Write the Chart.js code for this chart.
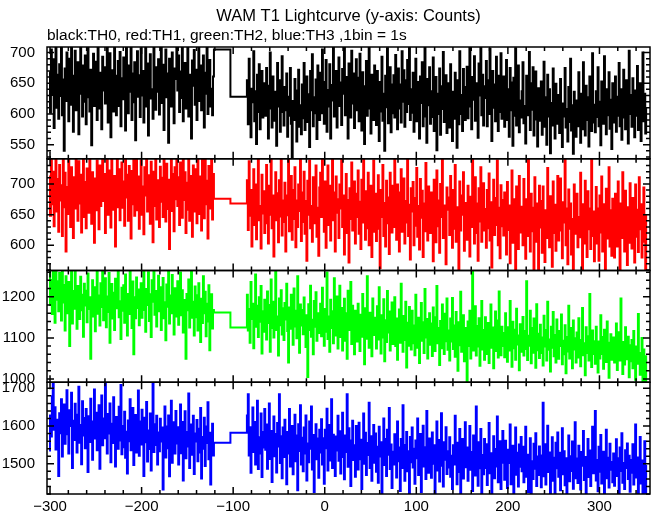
<!DOCTYPE html>
<html lang="en">
<head>
<meta charset="UTF-8" />
<title>WAM T1 Lightcurve</title>
<script src="https://cdn.jsdelivr.net/npm/chart.js@4"></script>
<style>
  body { margin: 0; background: #fff; }
  #wrap { width: 652px; height: 515px; }
</style>
</head>
<body>
<div id="wrap"><canvas id="lc" width="652" height="515"></canvas></div>
<script>
// 1 s bins. Data gap between -121 and -85 s is filled by two long bins.
const preStart = -301;
const postStart = -85;
const gapTimes = [-121, -103];

const th0Pre = [
  668,602,705,631,689,577,650,718,610,664,592,681,629,713,598,656,540,674,621,700,
  645,588,690,615,726,637,571,662,703,606,648,684,567,633,710,652,596,679,620,695,
  583,660,716,627,604,672,549,641,698,613,685,633,590,722,655,609,667,575,693,638,
  676,617,652,708,586,644,699,562,630,671,604,719,647,598,662,686,613,701,580,658,
  624,692,641,573,711,655,601,679,636,724,590,666,619,684,557,647,702,628,663,595,
  707,630,670,586,649,715,612,682,565,653,697,625,640,592,728,661,607,676,636,689,
  599,662,721,618,680,574,644,705,627,666,553,690,634,612,700,648,585,674,657,716,
  638,695,603,669,626,712,588,651,683,609,642,720,596,664,631,560,687,646,704,615,
  672,590,658,710,621,679,606,645,695,578,667,633,713,600,654,688,612,641,598,661
];
const th0Gap = [705, 628];
const th0Post = [
  655,583,690,608,562,641,619,702,588,637,551,664,603,681,575,627,670,594,616,650,
  597,675,624,560,646,700,609,578,661,620,589,636,548,683,612,655,571,640,694,603,
  581,644,606,666,563,628,597,675,584,528,621,590,657,603,555,638,672,579,614,567,
  648,593,683,574,619,661,587,632,546,670,606,697,580,627,601,656,559,679,615,590,
  667,601,705,628,584,652,688,571,639,612,681,560,647,622,715,596,643,670,578,631,
  692,613,651,582,673,633,709,598,660,621,560,682,641,594,703,617,666,577,635,689,
  606,659,588,698,627,573,668,614,551,645,686,597,630,712,609,568,664,624,590,679,
  641,582,670,615,556,652,604,693,589,633,540,662,611,707,585,625,676,570,648,601,
  663,594,696,626,575,674,609,648,586,702,620,671,579,655,603,688,616,710,590,640,
  602,667,571,631,690,588,652,609,560,661,618,684,580,642,712,596,553,657,614,676,
  584,637,595,692,572,615,660,541,633,600,674,566,645,608,701,587,625,663,569,610,
  650,578,681,606,556,636,592,667,615,545,655,583,702,600,631,572,673,609,590,644,
  677,593,639,710,612,575,660,623,694,589,650,607,561,682,630,716,598,664,581,645,
  626,686,580,655,600,706,633,556,670,610,648,588,693,619,572,662,603,699,592,638,
  661,579,620,688,590,640,563,675,606,651,548,659,597,707,581,628,679,570,622,594,
  637,684,585,613,552,662,598,630,701,574,650,607,676,565,624,669,591,547,642,611,
  589,653,566,610,685,579,627,550,664,596,640,536,618,581,674,603,560,649,608,584,
  631,569,657,590,546,617,596,675,578,608,555,644,587,690,573,614,535,636,600,563,
  622,580,668,597,553,633,575,684,604,565,646,590,627,547,661,601,572,699,586,615,
  570,637,595,676,580,620,549,653,605,584,694,612,567,640,598,668,576,623,543,650,
  614,586,661,571,628,597,683,580,640,558,618,672,594,575,655,609,552,703,600,631,
  579,658,606,562,638,597,678,574,621,650,556,612,700,588,633,568,610
];

const th1Pre = [
  712,648,745,667,720,631,690,752,655,708,622,731,673,698,615,740,662,718,590,695,
  651,748,679,630,727,694,612,711,660,756,682,640,737,668,715,621,690,743,646,703,
  628,725,684,653,750,696,635,719,670,604,709,657,738,687,626,730,664,701,760,672,
  716,620,689,741,650,722,681,629,747,697,658,713,598,685,758,662,724,641,699,735,
  661,704,632,749,678,715,640,729,690,611,721,667,744,648,700,763,657,712,627,693,
  738,650,696,618,727,681,761,655,714,676,635,736,690,605,720,664,746,642,706,683,
  630,728,671,710,646,755,686,639,733,659,707,594,692,742,656,716,623,727,675,750,
  664,711,633,735,688,645,759,674,719,620,702,658,744,640,713,683,614,730,655,700,
  724,636,747,678,651,712,624,739,688,644,753,667,705,611,729,660,694,740,642,716
];
const th1Gap = [676, 668];
const th1Post = [
  706,625,737,648,690,598,667,724,633,699,610,676,752,641,664,595,715,652,688,620,
  670,731,636,603,697,650,748,628,681,582,660,719,641,685,605,706,647,739,616,673,
  638,702,590,681,649,744,623,665,713,609,690,643,727,597,673,630,699,656,755,607,
  686,638,720,619,672,575,705,650,738,628,664,606,711,684,636,730,614,661,583,694,
  718,646,749,667,622,704,596,680,730,633,697,608,664,757,641,686,590,712,653,675,
  612,699,660,741,630,681,585,657,716,620,674,572,693,643,735,624,668,704,603,684,
  646,722,619,671,594,707,637,750,659,609,688,628,718,600,666,697,581,652,738,622,
  684,607,658,714,627,563,690,646,731,615,669,598,705,636,678,586,718,653,621,697,
  630,741,662,609,699,643,590,686,724,622,657,709,603,672,637,763,615,666,577,693,
  655,703,600,677,632,726,614,664,593,708,645,689,581,668,623,734,640,608,696,652,
  620,686,643,574,707,657,605,722,631,673,588,700,646,748,612,665,636,569,694,658,
  678,617,713,650,596,690,627,731,606,662,641,560,704,624,681,650,719,591,669,633,
  609,697,652,582,679,630,742,646,603,711,620,668,575,693,639,727,606,661,701,624,
  659,596,690,628,717,608,670,564,644,707,617,677,633,738,600,661,579,698,631,674,
  616,686,640,585,703,625,665,571,652,722,604,675,632,555,696,646,594,713,621,663,
  648,600,708,636,578,675,615,760,643,590,684,623,661,560,711,637,606,668,548,697,
  629,672,588,696,642,573,657,612,726,633,597,680,648,565,704,620,666,591,641,713,
  608,659,709,624,579,670,637,741,600,660,569,691,627,668,585,643,550,699,619,652,
  684,597,646,613,718,635,556,667,603,705,641,581,688,626,660,594,763,615,655,574,
  636,695,603,660,575,681,621,712,590,645,667,561,692,611,642,727,598,657,583,676,
  627,580,684,639,598,704,653,556,668,612,719,644,590,689,631,568,662,604,701,646,
  595,677,636,572,699,614,658,589,711,626,667,580,643,694,606,561,651
];

const th2Pre = [
  1275,1180,1241,1158,1266,1219,1137,1290,1193,1238,1165,1258,1204,1142,1279,1186,1229,1118,1250,1210,
  1160,1236,1080,1198,1262,1135,1214,1171,1284,1183,1122,1226,1190,1146,1249,1167,1205,1103,1232,1179,
  1215,1138,1257,1170,1199,1049,1190,1240,1152,1223,1116,1185,1271,1159,1203,1130,1233,1175,1281,1143,
  1192,1245,1126,1201,1163,1258,1088,1184,1231,1147,1210,1119,1244,1172,1196,1286,1150,1189,1097,1222,
  1166,1228,1137,1254,1190,1106,1207,1158,1269,1182,1124,1237,1060,1199,1148,1247,1173,1218,1131,1192,
  1233,1149,1199,1273,1168,1115,1219,1180,1260,1141,1206,1102,1240,1188,1292,1156,1214,1128,1194,1251,
  1165,1223,1119,1196,1246,1148,1187,1094,1230,1176,1267,1135,1203,1160,1253,1190,1108,1221,1152,1199,
  1238,1132,1184,1259,1155,1216,1113,1192,1141,1049,1207,1167,1242,1125,1197,1277,1149,1188,1106,1225,
  1150,1204,1118,1233,1175,1090,1195,1136,1250,1160,1212,1104,1183,1140,1228,1070,1171,1206,1123,1168
];
const th2Gap = [1162, 1125];
const th2Post = [
  1205,1118,1170,1088,1236,1146,1183,1075,1161,1254,1127,1178,1102,1199,1139,1226,1062,1165,1115,1193,
  1158,1096,1213,1136,1180,1066,1242,1124,1188,1101,1167,1263,1119,1152,1057,1196,1131,1216,1108,1172,
  1095,1185,1145,1232,1117,1040,1174,1122,1205,1150,1083,1220,1128,1166,1099,1250,1141,1064,1181,1130,
  1168,1109,1198,1136,1078,1155,1005,1182,1119,1227,1103,1144,1060,1190,1127,1211,1093,1160,1112,1152,
  1183,1104,1222,1138,1081,1170,1115,1259,1097,1152,1066,1193,1124,1165,1087,1245,1132,1106,1201,1074,
  1146,1227,1102,1173,1069,1131,1195,1093,1160,1049,1215,1119,1141,1236,1085,1178,1110,1060,1166,1134,
  1091,1183,1127,1068,1156,1103,1207,1122,1036,1172,1098,1250,1117,1076,1161,1133,1055,1196,1107,1149,
  1139,1074,1177,1096,1223,1116,1062,1155,1101,1194,1043,1143,1090,1214,1113,1164,1069,1128,1186,1085,
  1122,1199,1080,1147,1047,1110,1169,1088,1232,1128,1066,1153,1095,1188,1028,1137,1081,1175,1114,1072,
  1166,1087,1130,1058,1205,1104,1076,1149,1039,1121,1185,1093,1138,1063,1219,1101,1146,1050,1115,1160,
  1083,1135,1056,1174,1098,1068,1150,1226,1087,1124,1034,1141,1075,1181,1108,1061,1159,1092,1196,1071,
  1118,1045,1147,1091,1197,1073,1130,1054,1163,1100,1020,1138,1082,1212,1066,1113,1155,1043,1124,1088,
  990,1140,1080,1166,1050,1112,1262,1069,1098,1177,1057,1129,1079,1148,1032,1105,1190,1072,1119,1047,
  1150,1086,1061,1136,1039,1109,1181,1076,1125,1026,1099,1164,1068,1142,1052,1213,1093,1058,1127,1080,
  1112,1053,1160,1088,1042,1126,1069,1190,1097,1030,1139,1075,1120,1047,1171,1084,1106,1021,1133,1066,
  1098,1151,1057,1117,1073,1238,1046,1105,1081,1166,1038,1124,1064,1147,1092,1027,1182,1070,1110,1051,
  1132,1063,1101,1033,1154,1079,1119,1045,1188,1071,1096,1018,1127,1076,1163,1055,1107,1040,1145,1084,
  1049,1117,1080,1157,1036,1093,1060,1131,1014,1102,1067,1178,1050,1088,1124,1026,1142,1072,1099,1040,
  1113,1052,1148,1074,1031,1095,1173,1058,1087,1009,1126,1063,1104,1045,1207,1078,1029,1118,1061,1092,
  1037,1127,1070,1016,1091,1050,1155,1061,1102,1025,1120,1071,1041,1140,1056,1003,1088,1109,1047,1079,
  1101,1040,1084,1135,1022,1067,1114,1045,1196,1058,1012,1090,1035,1126,1071,1048,1103,1004,1082,1043,
  1095,1026,1117,1056,998,1079,1037,1158,1063,1010,1049,1100,985,1072,1031,975,1058
];

const th3Pre = [
  1535,1628,1572,1679,1738,1590,1650,1538,1617,1566,1468,1634,1581,1671,1519,1605,1657,1553,1596,1695,
  1578,1527,1642,1600,1688,1489,1614,1563,1659,1585,1530,1630,1704,1556,1603,1499,1666,1575,1621,1541,
  1645,1594,1478,1626,1558,1672,1583,1511,1612,1697,1567,1635,1536,1598,1655,1487,1590,1681,1549,1620,
  1568,1730,1593,1527,1632,1580,1660,1504,1606,1555,1676,1572,1493,1624,1587,1540,1651,1562,1709,1525,
  1600,1544,1638,1516,1585,1474,1615,1560,1671,1536,1590,1648,1497,1576,1629,1530,1594,1694,1521,1612,
  1551,1643,1578,1468,1622,1557,1664,1506,1588,1539,1633,1482,1570,1712,1531,1605,1550,1627,1498,1583,
  1533,1619,1559,1596,1432,1568,1652,1517,1599,1541,1628,1467,1577,1667,1503,1564,1610,1527,1640,1554,
  1597,1498,1572,1657,1528,1611,1456,1563,1639,1515,1584,1546,1686,1489,1604,1566,1524,1627,1473,1580,
  1559,1616,1507,1593,1530,1648,1461,1571,1540,1622,1494,1599,1555,1663,1512,1582,1445,1548,1606,1522
];
const th3Gap = [1556, 1582];
const th3Post = [
  1628,1684,1522,1597,1476,1580,1649,1531,1611,1498,1592,1667,1486,1570,1527,1633,1465,1584,1543,1645,
  1537,1604,1487,1566,1660,1513,1587,1452,1555,1625,1520,1579,1477,1608,1546,1684,1502,1573,1462,1596,
  1518,1617,1556,1446,1584,1527,1645,1493,1563,1600,1472,1545,1630,1507,1575,1430,1605,1534,1655,1498,
  1569,1480,1596,1527,1628,1456,1554,1504,1612,1540,1652,1485,1576,1425,1558,1605,1512,1567,1463,1590,
  1530,1618,1498,1568,1447,1590,1541,1646,1482,1557,1603,1509,1671,1489,1577,1520,1468,1572,1535,1627,
  1508,1586,1474,1551,1635,1518,1459,1575,1531,1684,1492,1594,1540,1441,1562,1614,1510,1549,1466,1600,
  1544,1485,1609,1512,1564,1433,1536,1633,1500,1582,1470,1555,1523,1662,1489,1573,1455,1541,1603,1503,
  1580,1479,1545,1450,1598,1519,1557,1420,1533,1620,1497,1566,1468,1590,1524,1648,1486,1551,1436,1532,
  1498,1578,1525,1464,1612,1507,1543,1428,1566,1489,1655,1518,1455,1550,1584,1480,1533,1418,1571,1504,
  1596,1490,1540,1447,1562,1515,1620,1470,1531,1579,1425,1508,1601,1493,1544,1460,1640,1522,1476,1567,
  1528,1463,1583,1500,1549,1418,1516,1612,1482,1563,1453,1536,1634,1495,1440,1557,1511,1597,1473,1533,
  1490,1570,1466,1521,1433,1549,1498,1627,1515,1446,1556,1478,1592,1405,1510,1566,1461,1535,1610,1491,
  1543,1455,1513,1600,1484,1531,1428,1575,1502,1469,1652,1510,1442,1557,1488,1592,1419,1523,1472,1566,
  1489,1552,1444,1520,1608,1475,1528,1412,1507,1573,1462,1539,1493,1625,1451,1521,1560,1433,1503,1587,
  1519,1458,1561,1487,1436,1537,1502,1604,1446,1513,1548,1408,1497,1596,1471,1529,1440,1551,1492,1571,
  1480,1545,1451,1511,1598,1466,1524,1425,1496,1568,1398,1507,1460,1553,1487,1581,1441,1519,1470,1546,
  1501,1438,1522,1662,1467,1552,1445,1509,1601,1478,1530,1417,1494,1570,1455,1516,1410,1556,1488,1583,
  1466,1529,1430,1501,1594,1472,1533,1443,1515,1411,1493,1575,1454,1520,1481,1559,1434,1506,1610,1462,
  1514,1449,1548,1486,1432,1531,1495,1587,1457,1518,1415,1502,1566,1465,1535,1441,1497,1598,1475,1524,
  1640,1456,1510,1427,1545,1479,1576,1448,1498,1532,1413,1493,1590,1462,1516,1437,1553,1484,1505,1451,
  1527,1442,1496,1565,1468,1515,1421,1543,1481,1581,1450,1502,1433,1536,1489,1554,1460,1521,1426,1510,
  1476,1552,1445,1500,1604,1464,1517,1409,1492,1571,1448,1509,1401,1483,1560,1390,1497
];

// tick labels
const xTickValues = [-300, -200, -100, 0, 100, 200, 300];
const th0Ticks = [550, 600, 650, 700];
const th1Ticks = [600, 650, 700];
const th2Ticks = [1000, 1100, 1200];
const th3Ticks = [1500, 1600, 1700];

const xMinor = 20;
const panels = [
  { id: "y0", label: "TH0", color: "#000000", pre: th0Pre, gap: th0Gap, post: th0Post, ticks: th0Ticks, min: 527, max: 709, minor: 10 },
  { id: "y1", label: "TH1", color: "#ff0000", pre: th1Pre, gap: th1Gap, post: th1Post, ticks: th1Ticks, min: 559, max: 741, minor: 10 },
  { id: "y2", label: "TH2", color: "#00ff00", pre: th2Pre, gap: th2Gap, post: th2Post, ticks: th2Ticks, min: 992, max: 1264, minor: 20 },
  { id: "y3", label: "TH3", color: "#0000ff", pre: th3Pre, gap: th3Gap, post: th3Post, ticks: th3Ticks, min: 1420, max: 1716, minor: 20 }
];

const FONT = "'Liberation Sans', Arial, Helvetica, sans-serif";

function toPoints(pre, gap, post) {
  const pts = pre.map((v, i) => ({ x: preStart + i, y: v }));
  gap.forEach((v, i) => pts.push({ x: gapTimes[i], y: v }));
  post.forEach((v, i) => pts.push({ x: postStart + i, y: v }));
  return pts;
}

function panelScale(p) {
  return {
    type: "linear", position: "left", stack: "lc", stackWeight: 1,
    min: p.min, max: p.max, offset: false,
    grid: { display: false, drawTicks: false },
    border: { display: false },
    afterBuildTicks(s) { s.ticks = p.ticks.map(v => ({ value: v })); },
    ticks: {
      autoSkip: false, padding: 12, color: "#000",
      font: { family: FONT, size: 15 },
      callback: v => String(v)
    },
    afterFit(s) { s.width = 47; }
  };
}

// clip each curve to its own panel, draw frames, inward ticks and titles
const panelFrame = {
  id: "panelFrame",
  beforeDatasetDraw(chart, args) {
    const s = chart.scales[args.meta.yAxisID];
    const a = chart.chartArea;
    const ctx = chart.ctx;
    ctx.save();
    ctx.beginPath();
    ctx.rect(a.left, s.top, a.right - a.left, s.bottom - s.top);
    ctx.clip();
  },
  afterDatasetDraw(chart) {
    chart.ctx.restore();
  },
  afterDraw(chart) {
    const ctx = chart.ctx, a = chart.chartArea, xs = chart.scales.x;
    ctx.save();
    ctx.strokeStyle = "#000";
    ctx.lineWidth = 1.5;
    panels.forEach(p => {
      const s = chart.scales[p.id];
      ctx.strokeRect(a.left, s.top, a.right - a.left, s.bottom - s.top);
      ctx.beginPath();
      for (let v = Math.ceil(p.min / p.minor) * p.minor; v <= p.max; v += p.minor) {
        const y = s.getPixelForValue(v);
        const len = p.ticks.includes(v) ? 7 : 4;
        ctx.moveTo(a.left, y); ctx.lineTo(a.left + len, y);
        ctx.moveTo(a.right, y); ctx.lineTo(a.right - len, y);
      }
      for (let v = xTickValues[0]; v <= xs.max; v += xMinor) {
        const x = xs.getPixelForValue(v);
        const len = xTickValues.includes(v) ? 7 : 4;
        ctx.moveTo(x, s.top); ctx.lineTo(x, s.top + len);
        ctx.moveTo(x, s.bottom); ctx.lineTo(x, s.bottom - len);
      }
      ctx.stroke();
    });
    ctx.fillStyle = "#000";
    ctx.textBaseline = "alphabetic";
    ctx.font = "16.5px " + FONT;
    ctx.textAlign = "center";
    ctx.fillText("WAM T1 Lightcurve (y-axis: Counts)", (a.left + a.right) / 2, 21);
    ctx.font = "15.5px " + FONT;
    ctx.textAlign = "left";
    ctx.fillText("black:TH0, red:TH1, green:TH2, blue:TH3 ,1bin = 1s", a.left, 40);
    ctx.restore();
  }
};

const scales = {
  x: {
    type: "linear", position: "bottom", min: -303.3, max: 355.2,
    grid: { display: false, drawTicks: false },
    border: { display: false },
    afterBuildTicks(s) { s.ticks = xTickValues.map(v => ({ value: v })); },
    ticks: {
      autoSkip: false, maxRotation: 0, padding: 4, color: "#000",
      font: { family: FONT, size: 15 },
      callback: v => String(v).replace("-", "\u2212")
    },
    afterFit(s) { s.height = 20; }
  }
};
// last-defined left scale sits at the top of the stack
[...panels].reverse().forEach(p => { scales[p.id] = panelScale(p); });

new Chart(document.getElementById("lc"), {
  type: "line",
  data: {
    datasets: panels.map(p => ({
      label: p.label,
      data: toPoints(p.pre, p.gap, p.post),
      yAxisID: p.id,
      borderColor: p.color,
      borderWidth: 2,
      pointRadius: 0,
      stepped: true,
      fill: false
    }))
  },
  options: {
    responsive: false,
    animation: false,
    layout: { padding: { top: 47, right: 2, left: 0, bottom: 0 } },
    plugins: { legend: { display: false }, tooltip: { enabled: false }, title: { display: false } },
    scales
  },
  plugins: [panelFrame]
});
</script>
</body>
</html>
